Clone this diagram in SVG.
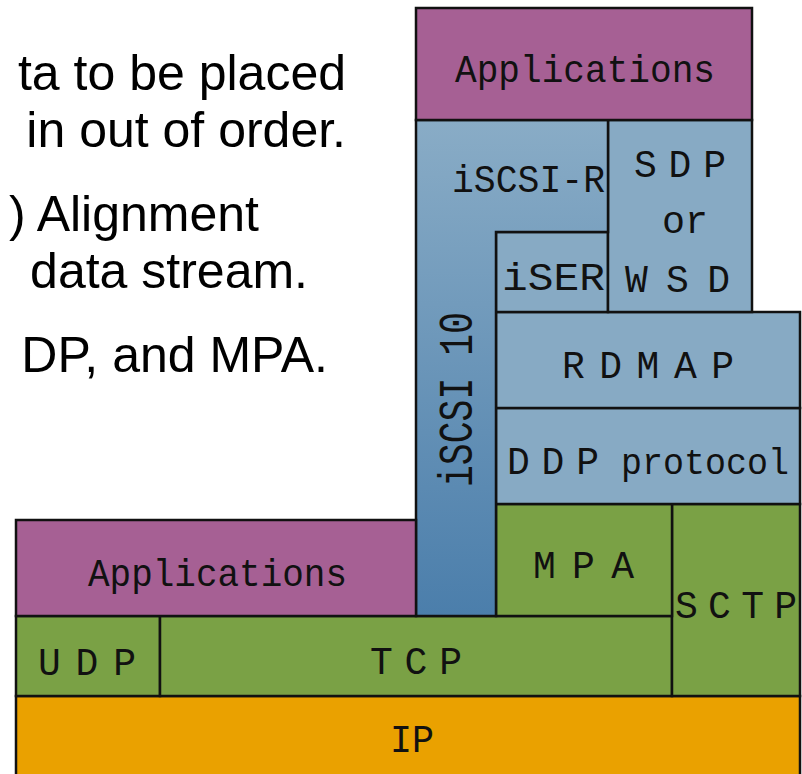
<svg xmlns="http://www.w3.org/2000/svg" width="802" height="774" viewBox="0 0 802 774">
  <defs>
    <linearGradient id="iscsiGrad" gradientUnits="userSpaceOnUse" x1="0" y1="120" x2="0" y2="616">
      <stop offset="0" stop-color="#89acc6"/>
      <stop offset="1" stop-color="#4b7eab"/>
    </linearGradient>
  </defs>
  <style>
    .box { stroke: #111; stroke-width: 2.5; }
    .app { fill: #a66094; }
    .blue { fill: #87aac4; }
    .green { fill: #7aa145; }
    .ip { fill: #eaa100; }
    .lbl { font-family: "Liberation Mono", "DejaVu Sans Mono", monospace; font-size: 38px; fill: #111; }
    .note { font-family: "Liberation Sans", Arial, sans-serif; font-size: 50px; fill: #000; }
  </style>

  <!-- bullet text, partly clipped at the left edge -->
  <g id="notes">
    <text class="note" x="346" y="90" text-anchor="end">ta to be placed</text>
    <text class="note" x="346" y="147" text-anchor="end">in out of order.</text>
    <text class="note" x="259" y="231" text-anchor="end">) Alignment</text>
    <text class="note" x="308" y="288" text-anchor="end">data stream.</text>
    <text class="note" x="328" y="372" text-anchor="end">DP, and MPA.</text>
  </g>

  <!-- network layer -->
  <g id="ip">
    <rect class="box ip" x="16" y="696" width="784" height="90"/>
    <text class="lbl" x="390" y="752" textLength="44" lengthAdjust="spacingAndGlyphs">IP</text>
  </g>

  <!-- transport layer -->
  <g id="udp">
    <rect class="box green" x="16" y="616" width="144" height="80"/>
    <text class="lbl" x="38" y="675" textLength="98" lengthAdjust="spacing">UDP</text>
  </g>
  <g id="tcp">
    <rect class="box green" x="160" y="616" width="512" height="80"/>
    <text class="lbl" x="370" y="674" textLength="92" lengthAdjust="spacing">TCP</text>
  </g>
  <g id="sctp">
    <rect class="box green" x="672" y="504" width="128" height="192"/>
    <text class="lbl" x="675" y="618" textLength="122" lengthAdjust="spacing">SCTP</text>
  </g>
  <g id="mpa">
    <rect class="box green" x="496" y="504" width="176" height="112"/>
    <text class="lbl" x="533" y="578" textLength="101" lengthAdjust="spacing">MPA</text>
  </g>

  <!-- RDMA stack -->
  <g id="ddp">
    <rect class="box blue" x="496" y="408" width="304" height="96"/>
    <text class="lbl" x="507" y="474" textLength="92" lengthAdjust="spacing">DDP</text>
    <text class="lbl" style="font-size:36px" x="621" y="474" textLength="168" lengthAdjust="spacingAndGlyphs">protocol</text>
  </g>
  <g id="rdmap">
    <rect class="box blue" x="496" y="312" width="304" height="96"/>
    <text class="lbl" x="562" y="378" textLength="172" lengthAdjust="spacing">RDMAP</text>
  </g>
  <g id="iser">
    <rect class="box blue" x="496" y="232" width="112" height="80"/>
    <text class="lbl" x="502" y="290" textLength="103" lengthAdjust="spacingAndGlyphs">iSER</text>
  </g>
  <g id="sdp-wsd">
    <rect class="box blue" x="608" y="120" width="144" height="192"/>
    <text class="lbl" x="634" y="177" textLength="92" lengthAdjust="spacing">SDP</text>
    <text class="lbl" x="662" y="233" textLength="46" lengthAdjust="spacingAndGlyphs">or</text>
    <text class="lbl" x="625" y="292" textLength="105" lengthAdjust="spacing">WSD</text>
  </g>
  <g id="iscsi">
    <path class="box" fill="url(#iscsiGrad)" d="M416,120 H608 V232 H496 V616 H416 Z"/>
    <text class="lbl" x="452" y="192" textLength="153" lengthAdjust="spacingAndGlyphs">iSCSI-R</text>
    <text class="lbl" style="font-size:48px" transform="translate(472,487) rotate(-90)" x="0" y="0" textLength="175" lengthAdjust="spacingAndGlyphs">iSCSI 10</text>
  </g>

  <!-- application layer -->
  <g id="apps-top">
    <rect class="box app" x="416" y="8" width="336" height="112"/>
    <text class="lbl" x="455" y="82" textLength="260" lengthAdjust="spacingAndGlyphs">Applications</text>
  </g>
  <g id="apps-left">
    <rect class="box app" x="16" y="520" width="400" height="96"/>
    <text class="lbl" x="88" y="586" textLength="259" lengthAdjust="spacingAndGlyphs">Applications</text>
  </g>
</svg>
